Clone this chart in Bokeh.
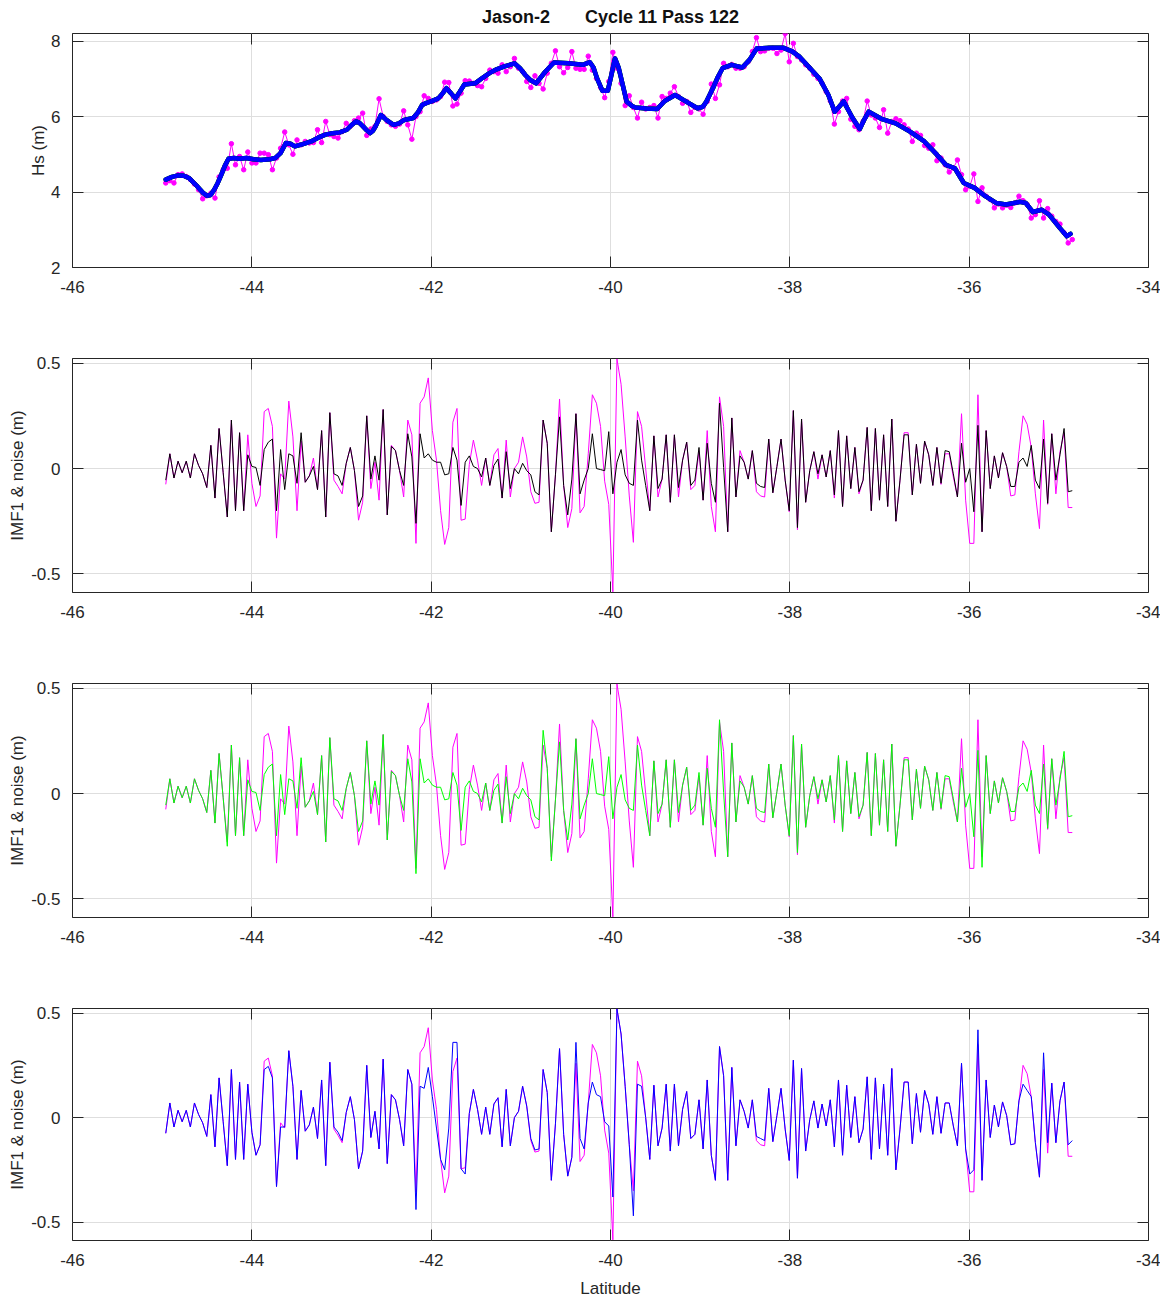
import numpy as np
from bokeh.plotting import figure
from bokeh.layouts import column
from bokeh.models import Range1d, FixedTicker, LinearAxis, CustomLabelingPolicy
from bokeh.embed import file_html
from bokeh.resources import INLINE

# ---------------- data ----------------
N_SAMPLES = 222
LAT_FIRST, LAT_LAST = -44.96, -34.85
lat = np.linspace(LAT_FIRST, LAT_LAST, N_SAMPLES)   # 1 Hz along-track samples

hs_raw = [
    4.24, 4.30, 4.24, 4.46, 4.48, 4.41, 4.33, 4.21, 4.06, 3.82,
    3.90, 3.97, 3.84, 4.40, 4.59, 4.63, 5.28, 4.72, 4.94, 4.59,
    5.06, 4.77, 4.77, 5.03, 5.03, 4.99, 4.59, 4.90, 5.16, 5.59,
    5.25, 5.00, 5.38, 5.25, 5.34, 5.30, 5.31, 5.65, 5.31, 5.87,
    5.52, 5.47, 5.43, 5.60, 5.82, 5.74, 5.89, 5.96, 6.09, 5.50,
    5.67, 5.74, 6.47, 6.00, 5.87, 5.78, 5.74, 5.80, 6.15, 5.78,
    5.40, 6.00, 6.13, 6.55, 6.48, 6.40, 6.44, 6.53, 6.91, 6.90,
    6.28, 6.33, 6.62, 6.95, 6.94, 6.88, 6.82, 6.79, 7.01, 7.23,
    7.19, 7.15, 7.37, 7.19, 7.32, 7.54, 7.28, 7.19, 6.93, 6.77,
    7.08, 6.88, 6.73, 7.15, 7.41, 7.74, 7.32, 7.16, 7.30, 7.72,
    7.28, 7.25, 7.25, 7.60, 7.23, 7.01, 6.77, 6.50, 6.93, 7.70,
    7.28, 6.88, 6.29, 6.55, 6.24, 5.96, 6.38, 6.20, 6.24, 6.29,
    5.96, 6.53, 6.48, 6.62, 6.79, 6.53, 6.35, 6.40, 6.11, 6.24,
    6.20, 6.06, 6.40, 6.86, 6.48, 6.84, 7.41, 7.32, 7.38, 7.28,
    7.28, 7.32, 7.45, 7.72, 8.09, 7.72, 7.74, 7.81, 7.81, 7.67,
    7.76, 8.20, 7.45, 7.94, 7.59, 7.50, 7.37, 7.28, 7.12, 7.01,
    6.88, 6.66, 6.41, 5.80, 6.13, 6.41, 6.48, 5.93, 5.74, 5.65,
    5.87, 6.41, 6.04, 5.96, 5.71, 6.18, 5.56, 5.87, 5.94, 5.89,
    5.78, 5.67, 5.34, 5.56, 5.50, 5.23, 5.16, 5.25, 4.83, 4.90,
    4.72, 4.53, 4.63, 4.85, 4.46, 4.06, 4.15, 4.48, 3.75, 4.11,
    3.89, 3.80, 3.58, 3.68, 3.58, 3.65, 3.59, 3.71, 3.89, 3.77,
    3.67, 3.31, 3.40, 3.77, 3.31, 3.56, 3.36, 3.22, 3.15, 2.92, 2.65, 2.74,
]

smooth_lat = [
    -44.96, -44.89, -44.82, -44.76, -44.70, -44.62, -44.54, -44.50, -44.46, -44.42,
    -44.38, -44.34, -44.30, -44.26, -44.20, -44.14, -44.06, -43.98, -43.90, -43.80,
    -43.74, -43.68, -43.62, -43.57, -43.52, -43.43, -43.34, -43.26, -43.18, -43.10,
    -43.02, -42.94, -42.89, -42.84, -42.80, -42.76, -42.72, -42.68, -42.65, -42.62,
    -42.56, -42.50, -42.42, -42.36, -42.30, -42.20, -42.15, -42.10, -42.05, -42.00,
    -41.92, -41.87, -41.83, -41.78, -41.73, -41.68, -41.63, -41.51, -41.43, -41.35,
    -41.27, -41.19, -41.07, -41.01, -40.95, -40.89, -40.83, -40.73, -40.63, -40.47,
    -40.31, -40.23, -40.19, -40.15, -40.09, -40.03, -39.99, -39.95, -39.91, -39.88,
    -39.82, -39.76, -39.72, -39.60, -39.48, -39.40, -39.28, -39.16, -39.03, -38.97,
    -38.93, -38.85, -38.80, -38.75, -38.65, -38.53, -38.45, -38.37, -38.21, -38.07,
    -37.97, -37.89, -37.81, -37.67, -37.57, -37.53, -37.50, -37.45, -37.40, -37.35,
    -37.30, -37.22, -37.17, -37.12, -36.98, -36.82, -36.66, -36.50, -36.36, -36.26,
    -36.16, -36.06, -35.94, -35.82, -35.70, -35.59, -35.43, -35.37, -35.29, -35.19,
    -35.11, -34.99, -34.91, -34.87,
]
smooth_hs = [
    4.33, 4.40, 4.44, 4.43, 4.37, 4.18, 3.97, 3.90, 3.92, 4.06,
    4.24, 4.46, 4.70, 4.88, 4.90, 4.88, 4.90, 4.87, 4.85, 4.87,
    4.90, 5.03, 5.30, 5.28, 5.21, 5.27, 5.34, 5.44, 5.52, 5.56,
    5.58, 5.65, 5.77, 5.87, 5.83, 5.74, 5.64, 5.56, 5.62, 5.74,
    6.04, 5.91, 5.78, 5.82, 5.91, 5.96, 6.10, 6.31, 6.36, 6.40,
    6.48, 6.62, 6.75, 6.62, 6.48, 6.66, 6.85, 6.88, 7.02, 7.15,
    7.25, 7.32, 7.41, 7.28, 7.10, 6.96, 6.88, 7.18, 7.43, 7.41,
    7.37, 7.44, 7.30, 7.01, 6.68, 6.68, 7.10, 7.54, 7.30, 7.00,
    6.40, 6.28, 6.24, 6.21, 6.20, 6.40, 6.57, 6.40, 6.22, 6.26,
    6.40, 6.79, 7.06, 7.28, 7.37, 7.30, 7.50, 7.80, 7.82, 7.82,
    7.72, 7.58, 7.37, 7.01, 6.57, 6.32, 6.13, 6.26, 6.40, 6.18,
    5.96, 5.67, 5.92, 6.13, 5.94, 5.82, 5.60, 5.34, 4.99, 4.72,
    4.63, 4.24, 4.11, 3.89, 3.71, 3.67, 3.74, 3.71, 3.47, 3.53,
    3.40, 3.05, 2.83, 2.89,
]

noise = [
    -0.075, 0.07, -0.045, 0.035, -0.02, 0.035, -0.045, 0.07, 0.015, -0.025,
    -0.09, 0.11, -0.14, 0.19, -0.02, -0.23, 0.23, -0.2, 0.17, -0.2,
    0.16, -0.07, -0.18, -0.13, 0.27, 0.285, 0.2, -0.33, -0.025, -0.05,
    0.32, 0.15, -0.2, 0.13, -0.065, -0.035, 0.05, -0.1, 0.18, -0.23,
    0.265, -0.055, -0.085, -0.12, 0.025, 0.1, -0.01, -0.245, -0.16, 0.25,
    -0.095, 0.03, -0.15, 0.28, -0.22, 0.11, 0.085, -0.01, -0.135, 0.23,
    0.16, -0.355, 0.31, 0.34, 0.43, 0.18, 0.04, -0.2, -0.36, -0.28,
    0.22, 0.285, -0.245, -0.24, 0.02, 0.135, 0.04, -0.08, 0.05, -0.08,
    0.065, 0.095, -0.14, 0.135, -0.135, 0.0, 0.03, 0.15, 0.055, -0.11,
    -0.165, -0.16, 0.23, 0.12, -0.3, -0.03, 0.33, -0.08, -0.28, -0.19,
    0.26, -0.21, -0.18, 0.07, 0.35, 0.31, 0.2, -0.06, -0.17, -0.585,
    0.52, 0.4, 0.15, -0.13, -0.35, 0.27, 0.2, 0.0, -0.2, 0.155,
    -0.135, -0.05, 0.16, -0.16, 0.16, -0.135, 0.04, 0.125, -0.1, -0.08,
    0.085, -0.15, 0.18, -0.18, -0.3, 0.34, 0.2, -0.3, 0.24, -0.135,
    0.085, 0.03, -0.05, 0.085, -0.11, -0.13, -0.135, 0.14, -0.115, 0.01,
    0.14, -0.055, -0.205, 0.275, -0.29, 0.235, -0.16, -0.01, 0.08, -0.05,
    0.065, -0.04, 0.085, -0.14, 0.18, -0.18, 0.155, -0.095, 0.1, -0.12,
    -0.055, 0.195, -0.2, 0.19, -0.15, 0.16, -0.18, 0.235, -0.25, -0.055,
    0.17, 0.17, -0.125, 0.115, -0.07, 0.13, 0.065, -0.08, 0.1, -0.075,
    0.07, 0.07, -0.04, -0.135, 0.26, -0.15, -0.355, -0.355, 0.35, -0.3,
    0.18, -0.095, 0.06, -0.045, 0.075, 0.01, -0.13, -0.125, 0.08, 0.25,
    0.21, 0.1, -0.12, -0.285, 0.23, -0.17, 0.165, -0.12, 0.08, 0.17, -0.185, -0.185,
]

imf_black = [
    -0.055, 0.07, -0.045, 0.035, -0.02, 0.035, -0.045, 0.07, 0.015, -0.025,
    -0.09, 0.11, -0.14, 0.19, -0.02, -0.23, 0.23, -0.2, 0.17, -0.2,
    0.065, 0.01, 0.005, -0.08, 0.09, 0.125, 0.14, -0.2, 0.09, -0.1,
    0.07, 0.06, -0.07, 0.17, -0.065, -0.035, 0.01, -0.1, 0.18, -0.23,
    0.265, -0.025, -0.035, -0.08, 0.025, 0.1, -0.01, -0.18, -0.13, 0.25,
    -0.05, 0.06, -0.055, 0.28, -0.22, 0.105, 0.085, -0.01, -0.08, 0.165,
    0.055, -0.26, 0.165, 0.05, 0.07, 0.04, 0.03, 0.03, -0.03, -0.025,
    0.1, 0.04, -0.175, 0.03, 0.06, 0.01, 0.0, -0.04, 0.05, -0.08,
    0.015, 0.045, -0.14, 0.08, -0.095, 0.0, -0.025, 0.025, -0.01, -0.03,
    -0.11, -0.125, 0.23, 0.12, -0.3, -0.03, 0.245, -0.08, -0.22, -0.05,
    0.26, -0.12, -0.055, 0.0, 0.165, 0.0, -0.005, -0.01, 0.175, -0.12,
    0.03, 0.09, -0.03, -0.07, -0.08, 0.23, 0.04, -0.08, -0.2, 0.155,
    -0.095, -0.05, 0.16, -0.16, 0.16, -0.09, 0.04, 0.125, -0.08, -0.055,
    0.1, -0.15, 0.12, -0.07, -0.16, 0.31, 0.005, -0.3, 0.24, -0.135,
    0.06, 0.03, -0.05, 0.085, -0.07, -0.085, -0.09, 0.14, -0.115, 0.01,
    0.14, -0.055, -0.2, 0.275, -0.28, 0.235, -0.16, -0.01, 0.08, -0.025,
    0.065, -0.04, 0.085, -0.125, 0.18, -0.18, 0.155, -0.095, 0.1, -0.11,
    -0.055, 0.195, -0.2, 0.19, -0.15, 0.16, -0.18, 0.235, -0.25, -0.055,
    0.16, 0.16, -0.125, 0.115, -0.07, 0.13, 0.065, -0.08, 0.1, -0.07,
    0.085, 0.08, -0.025, -0.135, 0.12, -0.065, 0.0, -0.205, 0.205, -0.3,
    0.18, -0.095, 0.06, -0.045, 0.075, 0.01, -0.085, -0.085, 0.03, 0.05,
    0.01, 0.11, -0.055, -0.095, 0.14, -0.165, 0.165, -0.055, 0.065, 0.19, -0.11, -0.105,
]

imf_green = [
    -0.055, 0.07, -0.045, 0.035, -0.02, 0.035, -0.045, 0.07, 0.015, -0.025,
    -0.09, 0.11, -0.14, 0.19, -0.02, -0.25, 0.23, -0.2, 0.17, -0.2,
    0.065, 0.01, 0.005, -0.08, 0.09, 0.125, 0.14, -0.2, 0.09, -0.1,
    0.07, 0.06, -0.07, 0.17, -0.065, -0.035, 0.01, -0.1, 0.18, -0.23,
    0.265, -0.025, -0.035, -0.08, 0.025, 0.1, -0.01, -0.18, -0.13, 0.25,
    -0.05, 0.06, -0.055, 0.28, -0.22, 0.105, 0.085, -0.01, -0.08, 0.165,
    0.055, -0.38, 0.165, 0.05, 0.07, 0.04, 0.03, 0.03, -0.03, -0.025,
    0.1, 0.04, -0.175, 0.03, 0.06, 0.01, 0.0, -0.04, 0.05, -0.08,
    0.015, 0.045, -0.14, 0.08, -0.095, 0.0, -0.025, 0.025, -0.01, -0.03,
    -0.11, -0.125, 0.3, 0.12, -0.32, -0.03, 0.245, -0.08, -0.22, -0.05,
    0.26, -0.12, -0.055, 0.0, 0.165, 0.0, -0.005, -0.01, 0.175, -0.12,
    0.03, 0.09, -0.03, -0.07, -0.08, 0.23, 0.04, -0.08, -0.2, 0.155,
    -0.095, -0.05, 0.16, -0.16, 0.16, -0.09, 0.04, 0.125, -0.08, -0.055,
    0.1, -0.15, 0.12, -0.07, -0.16, 0.35, 0.005, -0.3, 0.24, -0.135,
    0.06, 0.03, -0.05, 0.085, -0.07, -0.085, -0.09, 0.14, -0.115, 0.01,
    0.14, -0.055, -0.2, 0.275, -0.28, 0.235, -0.16, -0.01, 0.08, -0.025,
    0.065, -0.04, 0.085, -0.125, 0.18, -0.18, 0.155, -0.095, 0.1, -0.11,
    -0.055, 0.195, -0.2, 0.19, -0.15, 0.16, -0.18, 0.235, -0.25, -0.055,
    0.16, 0.16, -0.125, 0.115, -0.07, 0.13, 0.065, -0.08, 0.1, -0.07,
    0.085, 0.08, -0.025, -0.135, 0.12, -0.065, 0.0, -0.205, 0.205, -0.35,
    0.18, -0.095, 0.06, -0.045, 0.075, 0.01, -0.085, -0.085, 0.03, 0.05,
    0.01, 0.11, -0.055, -0.095, 0.14, -0.165, 0.165, -0.055, 0.065, 0.2, -0.11, -0.105,
]

imf_blue = [
    -0.075, 0.07, -0.045, 0.035, -0.02, 0.035, -0.045, 0.07, 0.015, -0.025,
    -0.09, 0.11, -0.14, 0.19, -0.02, -0.23, 0.23, -0.2, 0.17, -0.2,
    0.16, -0.07, -0.18, -0.13, 0.23, 0.245, 0.19, -0.33, -0.045, -0.045,
    0.32, 0.15, -0.2, 0.13, -0.065, -0.035, 0.05, -0.1, 0.18, -0.23,
    0.265, -0.045, -0.07, -0.11, 0.025, 0.1, -0.01, -0.245, -0.16, 0.25,
    -0.095, 0.03, -0.15, 0.28, -0.22, 0.11, 0.085, -0.01, -0.135, 0.23,
    0.16, -0.44, 0.15, 0.14, 0.24, 0.1, -0.05, -0.2, -0.25, -0.05,
    0.36, 0.36, -0.245, -0.27, 0.02, 0.135, 0.04, -0.08, 0.05, -0.08,
    0.065, 0.095, -0.14, 0.135, -0.135, 0.0, 0.03, 0.15, 0.055, -0.1,
    -0.155, -0.15, 0.23, 0.12, -0.3, -0.03, 0.33, -0.08, -0.28, -0.19,
    0.36, -0.1, -0.15, 0.07, 0.17, 0.11, 0.1, -0.02, -0.04, -0.38,
    0.52, 0.4, 0.15, -0.13, -0.47, 0.16, 0.15, 0.0, -0.2, 0.155,
    -0.135, -0.05, 0.16, -0.16, 0.16, -0.135, 0.04, 0.125, -0.1, -0.08,
    0.085, -0.15, 0.18, -0.18, -0.3, 0.34, 0.2, -0.3, 0.24, -0.135,
    0.085, 0.03, -0.05, 0.085, -0.09, -0.1, -0.11, 0.14, -0.115, 0.01,
    0.14, -0.055, -0.205, 0.275, -0.29, 0.235, -0.16, -0.01, 0.08, -0.05,
    0.065, -0.04, 0.085, -0.14, 0.18, -0.18, 0.155, -0.095, 0.1, -0.12,
    -0.055, 0.195, -0.2, 0.19, -0.15, 0.16, -0.18, 0.235, -0.25, -0.055,
    0.17, 0.17, -0.125, 0.115, -0.07, 0.13, 0.065, -0.08, 0.1, -0.075,
    0.07, 0.07, -0.04, -0.135, 0.26, -0.15, -0.27, -0.25, 0.42, -0.3,
    0.18, -0.095, 0.06, -0.045, 0.075, 0.01, -0.13, -0.125, 0.08, 0.16,
    0.13, 0.1, -0.12, -0.285, 0.31, -0.12, 0.165, -0.12, 0.08, 0.17, -0.13, -0.11,
]

x_ticks = [-46, -44, -42, -40, -38, -36, -34]
hs_ticks = [2, 4, 6, 8]
imf_ticks = [-0.5, 0, 0.5]

MAGENTA = "#ff00ff"
TXT = "#262626"
FONT = "Liberation Sans"


def make_fig(y0, y1, yticks, ylabels, ylabel, height, top, bottom, xlabel=None, title=None):
    p = figure(width=1160, height=height, x_range=Range1d(-46, -34), y_range=Range1d(y0, y1),
               output_backend="svg", toolbar_location=None,
               min_border_left=72, min_border_right=12, min_border_top=top, min_border_bottom=bottom)
    p.outline_line_color = TXT
    p.outline_line_width = 1
    p.background_fill_color = "white"
    p.border_fill_color = "white"
    xa, ya = p.xaxis[0], p.yaxis[0]
    xa.ticker = FixedTicker(ticks=x_ticks)
    xa.major_label_overrides = {t: str(t) for t in x_ticks}
    ya.ticker = FixedTicker(ticks=yticks)
    ya.major_label_overrides = dict(zip(yticks, ylabels))
    for ax in (xa, ya):
        ax.axis_line_color = None
        ax.major_tick_in = 11
        ax.major_tick_out = 0
        ax.major_tick_line_color = TXT
        ax.minor_tick_line_color = None
        ax.major_label_text_font = FONT
        ax.major_label_text_font_size = "17px"
        ax.major_label_text_color = TXT
        ax.axis_label_text_font = FONT
        ax.axis_label_text_font_size = "17px"
        ax.axis_label_text_font_style = "normal"
        ax.axis_label_text_color = TXT
    xa.major_label_standoff = 13
    ya.major_label_standoff = 12
    ya.axis_label = ylabel
    ya.axis_label_standoff = 1 if ylabel.startswith("IMF") else 0
    if xlabel:
        xa.axis_label = xlabel
        xa.axis_label_standoff = 10
    # mirrored (unlabelled) tick marks on the top and right edges
    for loc, ticks in (("above", x_ticks), ("right", yticks)):
        ax = LinearAxis(ticker=FixedTicker(ticks=ticks),
                        major_label_policy=CustomLabelingPolicy(code="return []"),
                        axis_line_color=None, major_tick_in=11, major_tick_out=0,
                        major_tick_line_color=TXT, minor_tick_line_color=None,
                        major_label_standoff=0, major_label_text_font_size="1px")
        p.add_layout(ax, loc)
    p.xgrid.ticker = FixedTicker(ticks=x_ticks)
    p.ygrid.ticker = FixedTicker(ticks=yticks)
    for g in (p.xgrid, p.ygrid):
        g.grid_line_color = "#dedede"
        g.grid_line_width = 1
    if title:
        p.title.text = title
        p.title.align = "center"
        p.title.text_font = FONT
        p.title.text_font_size = "18px"
        p.title.text_font_style = "bold"
        p.title.text_color = "#111111"
        p.title.standoff = 5
    return p


title = "Jason-2" + "\u00a0" * 7 + "Cycle 11 Pass 122"
p1 = make_fig(2, 8.2, hs_ticks, ["2", "4", "6", "8"], "Hs (m)", 333, 33, 66, title=title)
p1.line(lat, hs_raw, line_color=MAGENTA, line_width=1)
p1.scatter(lat, hs_raw, size=4.5, color=MAGENTA)
for c in ("#00ff00", "black", "#0000ff"):
    p1.line(smooth_lat, smooth_hs, line_color=c, line_width=4.5,
            line_join="round", line_cap="round")

imf_lab = ["-0.5", "0", "0.5"]
Y0, Y1 = -0.588, 0.522
p2 = make_fig(Y0, Y1, imf_ticks, imf_lab, "IMF1 & noise (m)", 325, 25, 66)
p2.line(lat, noise, line_color=MAGENTA, line_width=1)
p2.line(lat, imf_black, line_color="black", line_width=1)

p3 = make_fig(Y0, Y1, imf_ticks, imf_lab, "IMF1 & noise (m)", 325, 25, 66)
p3.line(lat, noise, line_color=MAGENTA, line_width=1)
p3.line(lat, imf_green, line_color="#00ff00", line_width=1)

p4 = make_fig(Y0, Y1, imf_ticks, imf_lab, "IMF1 & noise (m)", 317, 25, 58, xlabel="Latitude")
p4.line(lat, noise, line_color=MAGENTA, line_width=1)
p4.line(lat, imf_blue, line_color="#0000ff", line_width=1)

layout = column(p1, p2, p3, p4, spacing=0)
open("out.html", "w").write(file_html(layout, INLINE))
